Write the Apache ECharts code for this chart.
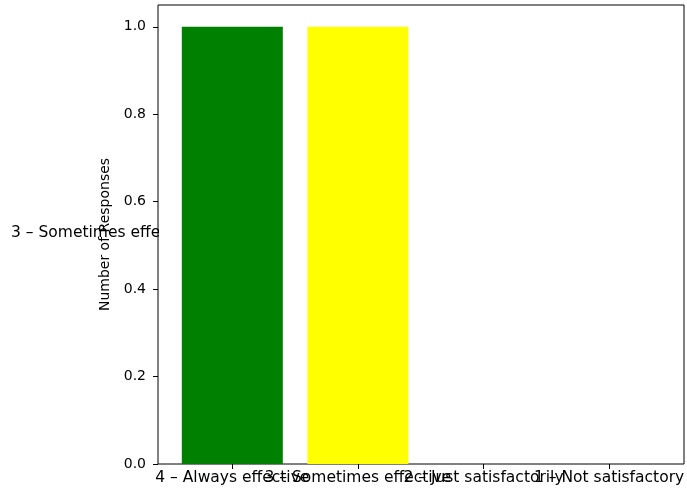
<!DOCTYPE html>
<html><head><meta charset="utf-8">
<script src="https://cdn.jsdelivr.net/npm/echarts@6/dist/echarts.min.js"></script>
<style>html,body{margin:0;padding:0;background:#fff}#c{width:687px;height:492px}</style>
</head><body><div id="c"></div>
<script>
const categories = ["4 – Always effective", "3 – Sometimes effective", "2 – Just satisfactorily", "1 – Not satisfactory"];
const responses = [1, 1, 0, 0];
const barColors = ["#008000", "#ffff00", "#0000ff", "#ff0000"];
const yTicks = [0, 0.2, 0.4, 0.6, 0.8, 1.0];
const strayLabel = "3 – Sometimes effective";

const chart = echarts.init(document.getElementById('c'), null, {renderer: 'canvas'});
const font = '"DejaVu Sans", sans-serif';
const band = 126, firstCenter = 232.5;
const dataLeft = firstCenter - band / 2;
const dataRight = 687 - (dataLeft + band * categories.length);
chart.setOption({
  animation: false,
  grid: [
    {left: dataLeft, right: dataRight, top: 5, bottom: 28, show: false, containLabel: false},
    {left: 158, right: 3, top: 5, bottom: 28, show: true, borderColor: '#000', borderWidth: 1, containLabel: false}
  ],
  graphic: [
    {type: 'text', left: 11, top: 225, z: 0, style: {text: strayLabel, font: '15.5px ' + font, fill: '#000'}},
    {type: 'rect', shape: {x: 159, y: 6, width: 524, height: 457}, z: 1, style: {fill: '#fff'}}
  ],
  xAxis: [{
    gridIndex: 0, type: 'category', data: categories, boundaryGap: true,
    splitLine: {show: false},
    axisLine: {show: false},
    axisTick: {show: true, length: 5, interval: 0, alignWithLabel: true, lineStyle: {color: '#000'}},
    axisLabel: {interval: 0, color: '#000', fontSize: 15.5, fontFamily: font, margin: 6, hideOverlap: false}
  }],
  yAxis: [{
    gridIndex: 0, type: 'value', min: 0, max: 1.05, offset: dataLeft - 158,
    splitLine: {show: false},
    name: 'Number of Responses', nameLocation: 'middle', nameGap: 44,
    nameTextStyle: {color: '#000', fontSize: 14, fontFamily: font},
    axisLine: {show: false},
    axisTick: {show: true, length: 5, inside: false, lineStyle: {color: '#000'}, customValues: yTicks},
    axisLabel: {customValues: yTicks, formatter: v => v.toFixed(1), color: '#000', fontSize: 14, fontFamily: font, margin: 12}
  }],
  series: [{
    type: 'bar', z: 2, barWidth: 101, xAxisIndex: 0, yAxisIndex: 0,
    data: responses.map((v, i) => ({value: v, itemStyle: {color: barColors[i]}}))
  }]
});
</script></body></html>
